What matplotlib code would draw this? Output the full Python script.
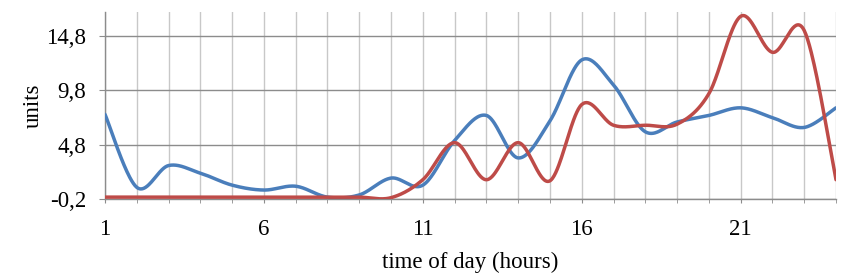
import numpy as np
import matplotlib
matplotlib.use("Agg")
import matplotlib.pyplot as plt
from matplotlib.ticker import FixedLocator, FuncFormatter

hours = list(range(1, 25))
blue_vals = [7.6, 0.9, 2.9, 2.2, 1.1, 0.65, 1.0, 0.0, 0.2, 1.75, 1.1, 5.2,
             7.5, 3.6, 7.0, 12.6, 10.3, 6.0, 6.9, 7.5, 8.2, 7.3, 6.4, 8.2]
red_vals = [0.0, 0.0, 0.0, 0.0, 0.0, 0.0, 0.0, 0.0, 0.0, -0.05, 1.6, 5.0,
            1.6, 5.0, 1.5, 8.5, 6.6, 6.6, 6.7, 9.5, 16.6, 13.3, 15.3, 1.6]
y_ticks = [-0.2, 4.8, 9.8, 14.8]
x_labels = [1, 6, 11, 16, 21]

BLUE = "#4A7EBB"
RED = "#BE4B48"


def smooth(x, y, n=40):
    pts = np.column_stack([x, y]).astype(float)
    P = np.vstack([pts[0], pts, pts[-1]])
    out = []
    t = np.linspace(0, 1, n)[:, None]
    for i in range(1, len(P) - 2):
        p0, p1, p2, p3 = P[i - 1], P[i], P[i + 1], P[i + 2]
        c1 = p1 + (p2 - p0) / 6.0
        c2 = p2 - (p3 - p1) / 6.0
        B = ((1 - t) ** 3) * p1 + 3 * ((1 - t) ** 2) * t * c1 + 3 * (1 - t) * t ** 2 * c2 + t ** 3 * p2
        out.append(B if i == 1 else B[1:])
    B = np.vstack(out)
    return B[:, 0], B[:, 1]


plt.rcParams['font.family'] = ['Liberation Serif', 'DejaVu Serif']
fig = plt.figure(figsize=(8.66, 2.75), dpi=100)
ax = fig.add_axes([105 / 866, 1 - 199.3 / 275, (836 - 105) / 866, (199.3 - 12) / 275])

bx, by = smooth(hours, blue_vals)
rx, ry = smooth(hours, red_vals)
ax.plot(bx, by, color=BLUE, lw=2.5, solid_capstyle='round', zorder=3)
ax.plot(rx, ry, color=RED, lw=2.5, solid_capstyle='round', zorder=4)

ax.set_xlim(1, 24)
ax.set_ylim(-0.2, 17.0)

ax.xaxis.set_major_locator(FixedLocator(x_labels))
ax.xaxis.set_minor_locator(FixedLocator(hours))
ax.yaxis.set_major_locator(FixedLocator(y_ticks))
ax.yaxis.set_major_formatter(FuncFormatter(lambda v, p: f"{v:.1f}".replace('.', ',')))

ax.grid(True, which='minor', axis='x', color='#C8C8C8', lw=1.0)
ax.grid(True, which='major', axis='x', color='#C8C8C8', lw=1.0)
ax.grid(True, which='major', axis='y', color='#8C8C8C', lw=1.0)
ax.set_axisbelow(True)

for s in ['top', 'right']:
    ax.spines[s].set_visible(False)
for s in ['left', 'bottom']:
    ax.spines[s].set_color('#8C8C8C')
    ax.spines[s].set_linewidth(1.0)

ax.tick_params(axis='y', which='major', length=4.5, color='#8C8C8C', labelsize=16.5, pad=9)
ax.tick_params(axis='x', which='major', length=3, color='#8C8C8C', labelsize=16.5, pad=11)
ax.tick_params(axis='x', which='minor', length=3, color='#8C8C8C')

ax.set_xlabel("time of day (hours)", fontsize=16.5, labelpad=9)
ax.set_ylabel("units", fontsize=16.5, labelpad=2)

fig.savefig("out.png", dpi=100)
